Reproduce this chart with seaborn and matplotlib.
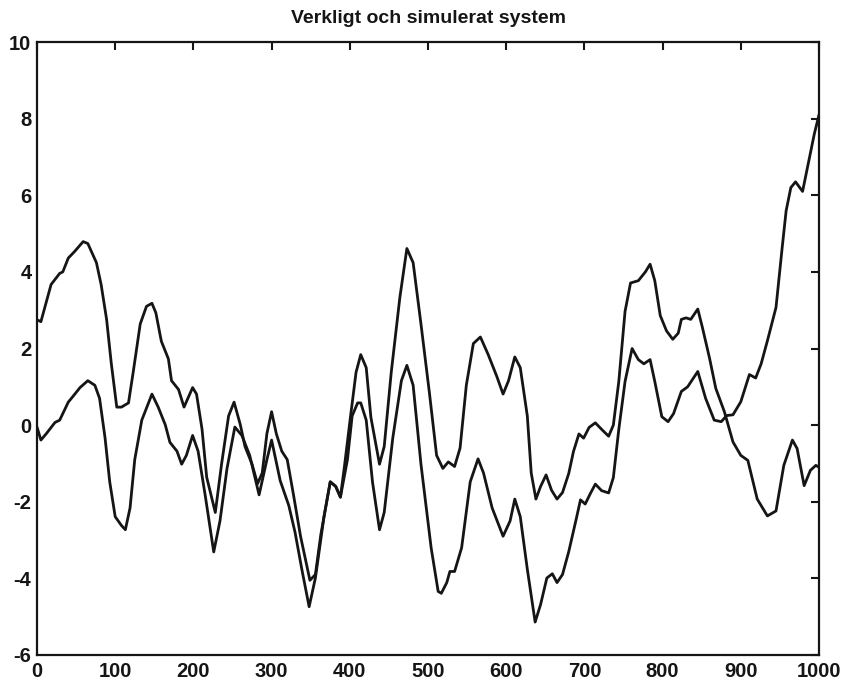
import matplotlib
matplotlib.use("Agg")
import matplotlib.pyplot as plt
import seaborn as sns
import pandas as pd

# values
x_upper = [0, 5, 18, 29, 33, 40, 48, 59, 65, 76, 82, 89, 95, 102, 108, 117, 123, 132, 140, 147,
           152, 159, 168, 172, 181, 188, 193, 199, 204, 211, 217, 228, 236, 245, 252, 260, 266, 275,
           282, 288, 294, 300, 306, 313, 320, 328, 337, 349, 356, 363, 375, 382, 388, 393, 401, 408,
           414, 421, 427, 438, 444, 453, 464, 473, 481, 491, 502, 511, 519, 526, 534, 541, 549, 558,
           567, 577, 588, 596, 603, 611, 618, 627, 632, 638, 644, 651, 658, 665, 672, 680, 686, 693,
           699, 706, 714, 722, 731, 737, 744, 752, 759, 769, 778, 784, 790, 797, 805, 813, 820, 824,
           830, 836, 845, 851, 860, 868, 879, 890, 900, 909, 921, 934, 945, 955, 966, 972, 981, 989,
           996, 1000]
y_upper = [2.75, 2.7, 3.67, 3.96, 4.0, 4.36, 4.53, 4.79, 4.74, 4.24, 3.67, 2.76, 1.61, 0.47, 0.47,
           0.58, 1.38, 2.64, 3.1, 3.18, 2.93, 2.19, 1.73, 1.16, 0.93, 0.47, 0.7, 0.98, 0.81, -0.1,
           -1.36, -2.28, -1.02, 0.24, 0.6, 0.01, -0.56, -1.02, -1.53, -1.25, -0.22, 0.35, -0.22,
           -0.68, -0.9, -1.82, -2.9, -4.05, -3.9, -2.85, -1.48, -1.6, -1.88, -1.1, 0.24, 1.38, 1.84,
           1.5, 0.2, -1.02, -0.56, 1.38, 3.33, 4.61, 4.24, 2.64, 0.81, -0.79, -1.13, -0.96, -1.08,
           -0.6, 1.04, 2.13, 2.3, 1.84, 1.27, 0.81, 1.16, 1.78, 1.5, 0.24, -1.25, -1.93, -1.6, -1.3,
           -1.7, -1.93, -1.76, -1.26, -0.69, -0.23, -0.34, -0.06, 0.06, -0.11, -0.29, 0.0, 1.14,
           2.97, 3.71, 3.77, 4.0, 4.2, 3.77, 2.86, 2.46, 2.24, 2.4, 2.76, 2.8, 2.76, 3.03, 2.54,
           1.75, 0.96, 0.35, -0.44, -0.79, -0.92, -1.93, -2.37, -2.24, -1.05, -0.39, -0.61, -1.58,
           -1.18, -1.05, -1.1]

x_lower = [0, 5, 12, 23, 29, 33, 40, 46, 55, 65, 74, 80, 87, 93, 100, 108, 113, 119, 125, 134,
           147, 155, 164, 170, 179, 185, 191, 199, 206, 215, 226, 234, 243, 253, 262, 272, 284, 294,
           300, 311, 322, 330, 339, 348, 356, 367, 375, 382, 388, 397, 403, 410, 414, 421, 429, 438,
           444, 455, 466, 473, 481, 491, 504, 513, 517, 524, 528, 534, 543, 554, 564, 571, 582, 596,
           605, 611, 618, 627, 637, 644, 652, 659, 665, 672, 680, 689, 695, 701, 708, 714, 722, 731,
           737, 744, 752, 761, 769, 776, 784, 790, 799, 807, 814, 824, 832, 845, 855, 866, 875, 882,
           890, 900, 911, 919, 926, 934, 945, 953, 958, 964, 970, 979, 985, 994, 1000]
y_lower = [-0.05, -0.39, -0.22, 0.07, 0.13, 0.3, 0.6, 0.75, 0.98, 1.16, 1.04, 0.7, -0.33, -1.48,
           -2.39, -2.62, -2.73, -2.16, -0.9, 0.13, 0.81, 0.47, 0.01, -0.45, -0.68, -1.02, -0.79,
           -0.27, -0.68, -1.82, -3.31, -2.5, -1.13, -0.05, -0.27, -0.79, -1.82, -0.9, -0.39, -1.45,
           -2.1, -2.8, -3.8, -4.74, -3.99, -2.39, -1.48, -1.6, -1.88, -0.9, 0.24, 0.58, 0.58, 0.13,
           -1.48, -2.73, -2.28, -0.33, 1.16, 1.56, 1.04, -1.02, -3.2, -4.34, -4.39, -4.11, -3.82,
           -3.82, -3.2, -1.48, -0.88, -1.25, -2.16, -2.9, -2.5, -1.93, -2.39, -3.76, -5.14, -4.68,
           -3.99, -3.88, -4.11, -3.9, -3.3, -2.5, -1.95, -2.06, -1.77, -1.54, -1.71, -1.77, -1.37,
           -0.11, 1.14, 2.0, 1.71, 1.6, 1.71, 1.14, 0.22, 0.09, 0.3, 0.88, 1.0, 1.4, 0.7, 0.13, 0.09,
           0.25, 0.27, 0.61, 1.32, 1.23, 1.6, 2.2, 3.07, 4.65, 5.6, 6.2, 6.35, 6.1, 6.7, 7.6, 8.1]

x_ticks = [0, 100, 200, 300, 400, 500, 600, 700, 800, 900, 1000]
y_ticks = [-6, -4, -2, 0, 2, 4, 6, 8, 10]
title = "Verkligt och simulerat system"

sns.set_style("white")
plt.rcParams["font.family"] = ["Liberation Sans", "DejaVu Sans"]
plt.rcParams["axes.unicode_minus"] = False

fig = plt.figure(figsize=(8.46, 6.83), dpi=100)
ax = fig.add_axes([37 / 846, 1 - 655 / 683, (819 - 37) / 846, (655 - 42) / 683])

df_upper = pd.DataFrame({"x": x_upper, "y": y_upper})
df_lower = pd.DataFrame({"x": x_lower, "y": y_lower})
for df in (df_upper, df_lower):
    sns.lineplot(data=df, x="x", y="y", ax=ax, color="#151515", linewidth=2.0, sort=False,
                 solid_joinstyle="round", solid_capstyle="round")

ax.set_xlim(0, 1000)
ax.set_ylim(-6, 10)
ax.set_xticks(x_ticks)
ax.set_yticks(y_ticks)
ax.set_xlabel("")
ax.set_ylabel("")
ax.tick_params(direction="in", length=6, width=1.5, top=True, right=True,
               labelsize=14.5, colors="#151515")
ax.tick_params(axis="x", pad=5)
ax.tick_params(axis="y", pad=4)
for lab in ax.get_xticklabels() + ax.get_yticklabels():
    lab.set_fontweight("bold")
for sp in ax.spines.values():
    sp.set_visible(True)
    sp.set_linewidth(1.6)
    sp.set_color("#151515")

ax.set_title(title, fontsize=14, fontweight="bold", pad=14, color="#151515")

fig.savefig("out.png", dpi=100, facecolor="white")
